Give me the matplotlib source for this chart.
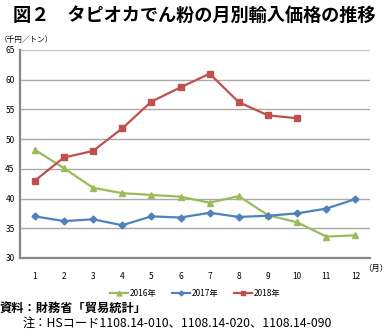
import matplotlib

matplotlib.use("Agg")
import matplotlib.pyplot as plt

plt.rcParams["font.family"] = ["Noto Sans CJK JP", "DejaVu Sans"]

months = list(range(1, 13))
month_labels = [str(m) for m in months]
price_2016 = [48.2, 45.1, 41.8, 40.9, 40.6, 40.3, 39.3, 40.4, 37.2, 36.0, 33.6, 33.8]
price_2017 = [37.0, 36.2, 36.5, 35.5, 37.0, 36.8, 37.6, 36.9, 37.1, 37.5, 38.3, 39.9]
price_2018 = [43.0, 46.9, 48.0, 51.8, 56.3, 58.7, 61.0, 56.2, 54.0, 53.5]
y_ticks = [30, 35, 40, 45, 50, 55, 60, 65]

fig = plt.figure(figsize=(3.89, 3.35), dpi=100)
ax = fig.add_axes([0.052, 0.23, 0.899, 0.621])

ax.plot(months, price_2016, color="#9BBB59", marker="^", markersize=5, linewidth=1.6, label="2016年")
ax.plot(months, price_2017, color="#4F81BD", marker="D", markersize=3.5, linewidth=1.6, label="2017年")
ax.plot(months[: len(price_2018)], price_2018, color="#C0504D", marker="s", markersize=5, linewidth=1.6, label="2018年")

ax.set_xlim(0.5, 12.5)
ax.set_ylim(30, 65)
ax.set_yticks(y_ticks)
ax.set_xticks(months)
ax.set_xticklabels(month_labels)
ax.tick_params(axis="both", labelsize=6, length=0, pad=4)
ax.tick_params(axis="x", pad=10)
for t in y_ticks[1:]:
    ax.axhline(t, color="#AAAAAA" if t != 65 else "#C8C8C8", linewidth=1.0, zorder=0)
for side in ("top", "right"):
    ax.spines[side].set_visible(False)
for side in ("left", "bottom"):
    ax.spines[side].set_color("#888888")
    ax.spines[side].set_linewidth(1.6)

fig.text(0.5, 0.955, "図２　タピオカでん粉の月別輸入価格の推移", ha="center", va="center",
         fontsize=13.1, fontweight="bold")
fig.text(0.0, 0.88, "（千円／トン）", ha="left", va="center", fontsize=5.5)
fig.text(0.998, 0.198, "（月）", ha="right", va="center", fontsize=6)

ax.legend(loc="upper center", bbox_to_anchor=(0.5, -0.115), ncol=3, frameon=False,
          fontsize=6, handlelength=2.2, columnspacing=1.8, handletextpad=0.2, markerscale=0.7)

fig.text(0.0, 0.08, "資料：財務省「貿易統計」", ha="left", va="center", fontsize=8.8, fontweight="bold")
fig.text(0.057, 0.036, "注：HSコード1108.14-010、1108.14-020、1108.14-090", ha="left", va="center",
         fontsize=8.8)

fig.savefig("out.png", dpi=100)
